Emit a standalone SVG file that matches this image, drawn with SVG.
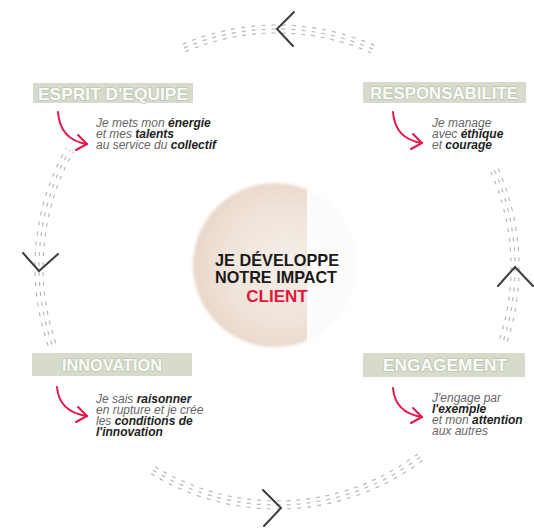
<svg xmlns="http://www.w3.org/2000/svg" width="534" height="530" viewBox="0 0 534 530">
<defs>
<style>
.tick{fill:none;stroke:#b9b9b9;stroke-width:1.2;stroke-dasharray:4 6}
.chev{fill:none;stroke:#3d3d3d;stroke-width:2;stroke-linecap:round;stroke-linejoin:miter}
.box{fill:#d6dbcc}
.lbl{font-family:"Liberation Sans",Arial,sans-serif;font-weight:bold;font-size:17px;fill:#fafbf7;stroke:#bfc6b3;stroke-width:1.6;paint-order:stroke;stroke-linejoin:round;text-anchor:middle}
.desc{font-family:"Liberation Sans",Arial,sans-serif;font-style:italic;font-size:12px;fill:#666}
.desc .b{font-weight:bold;fill:#1e1e1e}
.red{fill:none;stroke:#e3184c;stroke-width:2;stroke-linecap:round;stroke-linejoin:round}
.core{font-family:"Liberation Sans",Arial,sans-serif;font-weight:bold;font-size:17px;fill:#1a1a1a;text-anchor:middle}
</style>
<radialGradient id="g" cx="0.55" cy="0.5" r="0.55">
<stop offset="0" stop-color="#f6efe9"/>
<stop offset="0.65" stop-color="#f0e3d9"/>
<stop offset="1" stop-color="#e9d6c8"/>
</radialGradient>
<filter id="soft" x="-10%" y="-10%" width="120%" height="120%"><feGaussianBlur stdDeviation="1.5"/></filter>
<clipPath id="cc"><circle cx="275" cy="265" r="84"/></clipPath>
</defs>
<rect width="534" height="530" fill="#ffffff"/>

<g id="center">
<circle cx="275" cy="265" r="82" fill="url(#g)" filter="url(#soft)"/>
<rect x="307" y="178" width="62" height="174" fill="#ffffff" opacity="0.88" clip-path="url(#cc)"/>
<text class="core" x="277" y="266" textLength="124" lengthAdjust="spacingAndGlyphs">JE DÉVELOPPE</text>
<text class="core" x="276" y="283" textLength="122" lengthAdjust="spacingAndGlyphs">NOTRE IMPACT</text>
<text class="core" x="277" y="302" style="fill:#e3163f">CLIENT</text>
</g>

<g id="connectors">
<path class="tick" pathLength="195" d="M185.6,51.6 A234,234 0 0 1 372.2,53.2"/>
<path class="tick" pathLength="195" d="M184.0,47.9 A238,238 0 0 1 373.8,49.6"/>
<path class="tick" pathLength="195" d="M182.5,44.2 A242,242 0 0 1 375.4,45.9"/>
<path class="tick" pathLength="286.6" d="M417.8,453.9 A234,234 0 0 1 153.0,465.4"/>
<path class="tick" pathLength="286.6" d="M420.2,457.1 A238,238 0 0 1 150.9,468.8"/>
<path class="tick" pathLength="286.6" d="M422.6,460.3 A242,242 0 0 1 148.8,472.2"/>
<path class="tick" pathLength="201.5" d="M55.8,343.2 A234,234 0 0 1 73.3,151.8"/>
<path class="tick" pathLength="201.5" d="M52.0,344.5 A238,238 0 0 1 69.8,149.8"/>
<path class="tick" pathLength="201.5" d="M48.2,345.8 A242,242 0 0 1 66.4,147.8"/>
<path class="tick" pathLength="174.5" d="M490.8,171.8 A234,234 0 0 1 499.6,339.3"/>
<path class="tick" pathLength="174.5" d="M494.4,170.2 A238,238 0 0 1 503.4,340.5"/>
<path class="tick" pathLength="174.5" d="M498.1,168.6 A242,242 0 0 1 507.2,341.8"/>
<polyline class="chev" points="294,12 277,29 293,46"/>
<polyline class="chev" points="263,490 281,508 264,526"/>
<polyline class="chev" points="23,253 39,271 58,254"/>
<polyline class="chev" points="498,286 515,267 533,286"/>
</g>

<g id="esprit">
<rect class="box" x="33" y="83" width="160" height="20"/>
<text class="lbl" x="113" y="99.5" textLength="150" lengthAdjust="spacingAndGlyphs">ESPRIT D'EQUIPE</text>
<path class="red" d="M58,112 Q60,140 87,144"/>
<polyline class="red" points="78,135 87,144 76,150"/>
<text class="desc" x="96" y="127">Je mets mon <tspan class="b">énergie</tspan></text>
<text class="desc" x="96" y="138">et mes <tspan class="b">talents</tspan></text>
<text class="desc" x="96" y="149">au service du <tspan class="b">collectif</tspan></text>
</g>

<g id="responsabilite">
<rect class="box" x="363" y="82" width="163" height="21"/>
<text class="lbl" x="444" y="99" textLength="148" lengthAdjust="spacingAndGlyphs">RESPONSABILITE</text>
<path class="red" d="M393,112 Q395,139 422,143"/>
<polyline class="red" points="413,134 422,143 411,149"/>
<text class="desc" x="432" y="127">Je manage</text>
<text class="desc" x="432" y="138">avec <tspan class="b">éthique</tspan></text>
<text class="desc" x="432" y="149">et <tspan class="b">courage</tspan></text>
</g>

<g id="innovation">
<rect class="box" x="32" y="353" width="160" height="23"/>
<text class="lbl" x="112" y="370.5" textLength="100" lengthAdjust="spacingAndGlyphs">INNOVATION</text>
<path class="red" d="M57,387 Q59,412 87,416"/>
<polyline class="red" points="78,407 87,416 76,422"/>
<text class="desc" x="96" y="403">Je sais <tspan class="b">raisonner</tspan></text>
<text class="desc" x="96" y="414">en rupture et je crée</text>
<text class="desc" x="96" y="425">les <tspan class="b">conditions de</tspan></text>
<text class="desc" x="96" y="436"><tspan class="b">l'innovation</tspan></text>
</g>

<g id="engagement">
<rect class="box" x="363" y="353" width="162" height="24"/>
<text class="lbl" x="445" y="371" textLength="124" lengthAdjust="spacingAndGlyphs">ENGAGEMENT</text>
<path class="red" d="M393,388 Q395,413 422,417"/>
<polyline class="red" points="413,408 422,417 411,423"/>
<text class="desc" x="432" y="402">J'engage par</text>
<text class="desc" x="432" y="413"><tspan class="b">l'exemple</tspan></text>
<text class="desc" x="432" y="424">et mon <tspan class="b">attention</tspan></text>
<text class="desc" x="432" y="435">aux autres</text>
</g>
</svg>
